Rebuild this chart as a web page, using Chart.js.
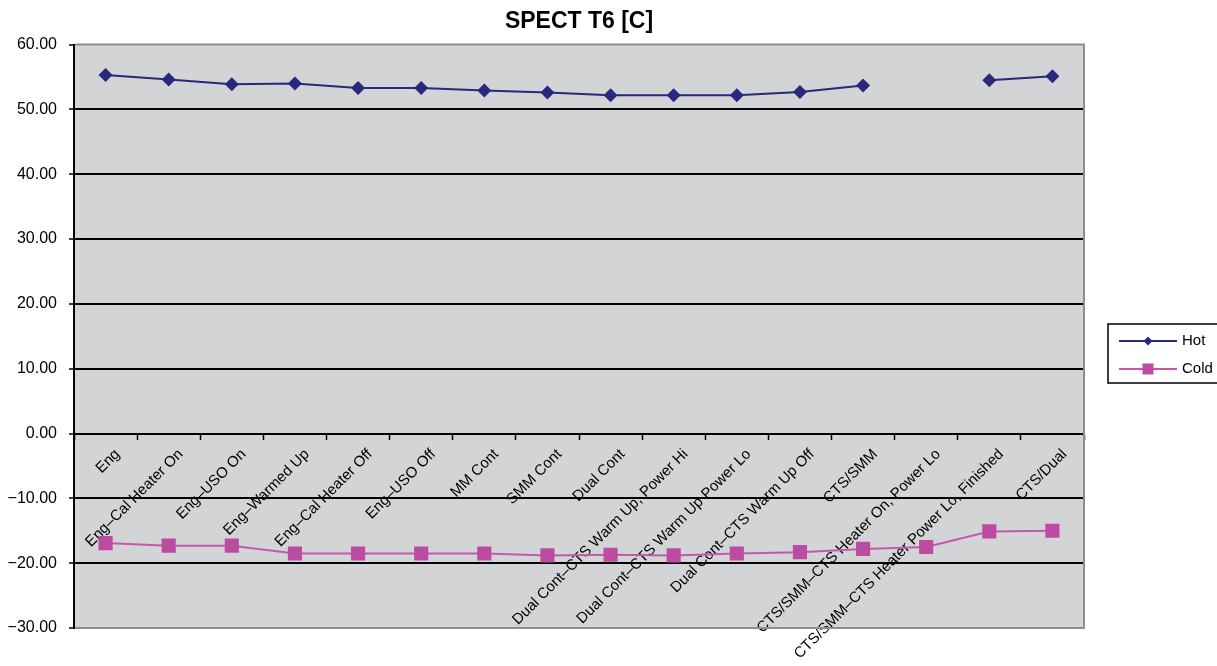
<!DOCTYPE html>
<html>
<head>
<meta charset="utf-8">
<script src="https://cdn.jsdelivr.net/npm/chart.js@4.4.1/dist/chart.umd.min.js"></script>
<style>
  html, body { margin: 0; padding: 0; background: #fff; }
</style>
</head>
<body>
<canvas id="myChart" width="1217" height="666"></canvas>
<script>
const stages = [
  'Eng',
  'Eng\u2013Cal Heater On',
  'Eng\u2013USO On',
  'Eng\u2013Warmed Up',
  'Eng\u2013Cal Heater Off',
  'Eng\u2013USO Off',
  'MM Cont',
  'SMM Cont',
  'Dual Cont',
  'Dual Cont\u2013CTS Warm Up, Power Hi',
  'Dual Cont\u2013CTS Warm Up Power Lo',
  'Dual Cont\u2013CTS Warm Up Off',
  'CTS/SMM',
  'CTS/SMM\u2013CTS Heater On, Power Lo',
  'CTS/SMM\u2013CTS Heater Power Lo, Finished',
  'CTS/Dual'
]
const hotTemps = [55.3, 54.6, 53.9, 54.0, 53.3, 53.3, 52.9, 52.6, 52.2, 52.2, 52.2, 52.7, 53.7, null, 54.5, 55.1]
const coldTemps = [-16.9, -17.3, -17.3, -18.5, -18.5, -18.5, -18.5, -18.8, -18.7, -18.8, -18.5, -18.3, -17.8, -17.5, -15.1, -15.0]
const yMin = -30, yMax = 60, yStep = 10

const hotColor = '#27297c'
const coldLine = '#c458aa'
const coldMark = '#bb4ca2'

Chart.defaults.font.family = "'Liberation Sans', Arial, sans-serif"
Chart.defaults.color = '#000'

// little line+marker pictures for the legend
function legendSample(line, fill, style) {
  const c = document.createElement('canvas')
  c.width = 58; c.height = 14
  const g = c.getContext('2d')
  g.strokeStyle = line; g.lineWidth = 2
  g.beginPath(); g.moveTo(0, 7); g.lineTo(58, 7); g.stroke()
  g.fillStyle = fill
  if (style === 'diamond') {
    g.beginPath(); g.moveTo(29, 2.5); g.lineTo(33.5, 7); g.lineTo(29, 11.5); g.lineTo(24.5, 7); g.closePath(); g.fill()
  } else {
    g.fillRect(23.5, 1.5, 11, 11)
  }
  return c
}
const samples = [legendSample(hotColor, hotColor, 'diamond'), legendSample(coldLine, coldMark, 'square')]

const plotFrame = {
  id: 'plotFrame',
  beforeDraw(chart) {
    const {ctx, chartArea: a} = chart
    ctx.save()
    ctx.fillStyle = '#d3d4d6'
    ctx.fillRect(a.left, a.top, a.right - a.left, a.bottom - a.top)
    ctx.restore()
  },
  beforeDatasetsDraw(chart) {
    const {ctx, chartArea: a} = chart
    ctx.save()
    ctx.strokeStyle = '#8e8e8e'
    ctx.lineWidth = 2
    ctx.beginPath()
    ctx.moveTo(a.left + 1, a.top); ctx.lineTo(a.right, a.top)
    ctx.lineTo(a.right, a.bottom); ctx.lineTo(a.left + 1, a.bottom)
    ctx.stroke()
    ctx.restore()
  },
  afterDraw(chart) {
    const lg = chart.legend
    const hb = lg.legendHitBoxes
    if (!hb || !hb.length) return
    const top = hb[0].top + 7.5 - 17
    const bottom = hb[hb.length - 1].top + 7.5 + 14
    const ctx = chart.ctx
    ctx.save()
    ctx.strokeStyle = '#000'
    ctx.lineWidth = 1.5
    ctx.strokeRect(lg.left - 0.5, top, chart.width + 10 - lg.left, bottom - top)
    ctx.restore()
  }
}

new Chart('myChart', {
  type: 'line',
  data: {
    labels: stages,
    datasets: [{
      label: 'Hot',
      data: hotTemps,
      borderColor: hotColor,
      backgroundColor: hotColor,
      borderWidth: 2,
      pointStyle: 'rectRot',
      pointRadius: 7,
      pointHoverRadius: 7,
      pointBorderWidth: 0,
      spanGaps: false,
      tension: 0
    }, {
      label: 'Cold',
      data: coldTemps,
      borderColor: coldLine,
      backgroundColor: coldMark,
      pointBorderColor: coldMark,
      borderWidth: 2,
      pointStyle: 'rect',
      pointRadius: 10,
      pointHoverRadius: 10,
      pointBorderWidth: 0,
      tension: 0
    }]
  },
  options: {
    responsive: false,
    animation: false,
    layout: { padding: { left: 8, right: 0, top: 0, bottom: 38 } },
    scales: {
      x: {
        type: 'category',
        offset: true,
        position: { y: 0 },
        afterFit(scale) { scale.height = 0 },
        ticks: {
          autoSkip: false,
          minRotation: 45,
          maxRotation: 45,
          padding: 7,
          labelOffset: 12,
          font: { size: 15 },
          color: '#000'
        },
        grid: { display: true, drawOnChartArea: false, offset: true, tickLength: 5, tickColor: '#000', tickWidth: 1.5 },
        border: { display: true, color: '#000', width: 2 }
      },
      y: {
        min: yMin,
        max: yMax,
        afterFit(scale) { scale.width = 66 },
        ticks: {
          stepSize: yStep,
          padding: 12,
          font: { size: 16 },
          color: '#000',
          callback: v => (v < 0 ? '\u2212' : '') + Math.abs(v).toFixed(2)
        },
        grid: {
          color: c => (c.tick && (c.tick.value === yMax || c.tick.value === yMin)) ? 'rgba(0,0,0,0)' : '#000',
          lineWidth: 2,
          tickLength: 5,
          tickColor: '#000',
          tickWidth: 1.5
        },
        border: { display: true, color: '#000', width: 2 }
      },
      gap: {
        type: 'linear',
        position: 'right',
        ticks: { display: false },
        grid: { display: false },
        border: { display: false },
        afterFit(scale) { scale.width = 24.5 }
      }
    },
    plugins: {
      title: {
        display: true,
        text: 'SPECT T6 [C]',
        fullSize: false,
        color: '#000',
        font: { size: 23, weight: 'bold' },
        padding: { top: 8, bottom: 9 }
      },
      legend: {
        position: 'right',
        fullSize: false,
        maxWidth: 108.5,
        title: { display: true, text: ' ', font: { size: 12 }, padding: { top: 11, bottom: 12 } },
        labels: {
          usePointStyle: true,
          pointStyleWidth: 53,
          padding: 13,
          font: { size: 15 },
          color: '#000',
          generateLabels(chart) {
            const items = Chart.defaults.plugins.legend.labels.generateLabels(chart)
            items.forEach((it, i) => { it.pointStyle = samples[i] })
            return items
          }
        }
      },
      tooltip: { enabled: false }
    }
  },
  plugins: [plotFrame]
})
</script>
</body>
</html>
